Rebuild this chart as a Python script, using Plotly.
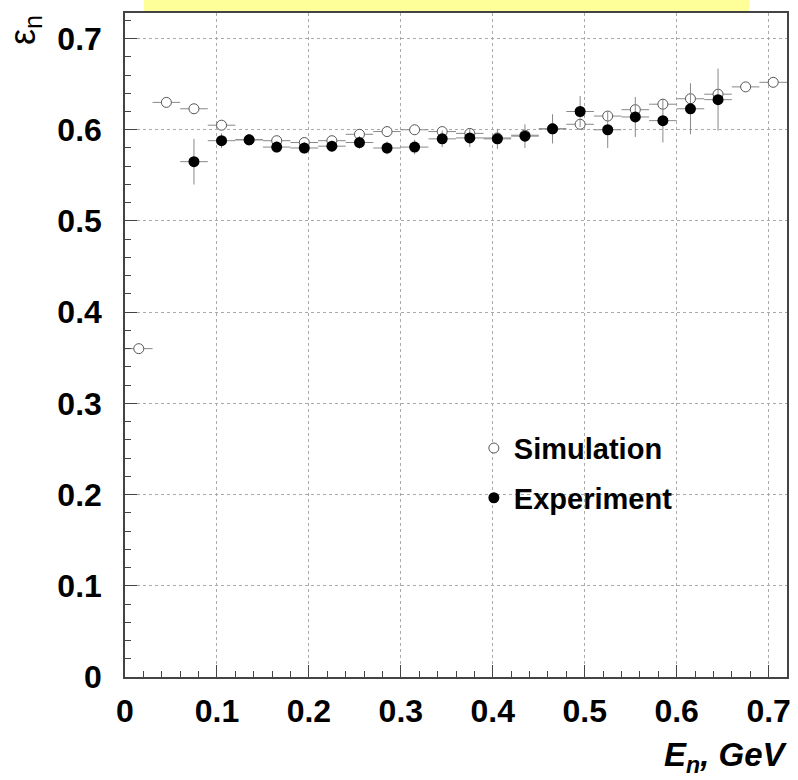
import plotly.graph_objects as go

# Bin centres (GeV) and half-widths
sim_x = [0.015, 0.045, 0.075, 0.105, 0.135, 0.165, 0.195, 0.225, 0.255, 0.285,
         0.315, 0.345, 0.375, 0.405, 0.435, 0.465, 0.495, 0.525, 0.555, 0.585,
         0.615, 0.645, 0.675, 0.705]
sim_y = [0.360, 0.630, 0.623, 0.605, 0.589, 0.588, 0.586, 0.588, 0.595, 0.598,
         0.600, 0.598, 0.596, 0.591, 0.594, 0.601, 0.606, 0.615, 0.622, 0.628,
         0.634, 0.639, 0.647, 0.652]

exp_x = [0.075, 0.105, 0.135, 0.165, 0.195, 0.225, 0.255, 0.285, 0.315, 0.345,
         0.375, 0.405, 0.435, 0.465, 0.495, 0.525, 0.555, 0.585, 0.615, 0.645]
exp_y = [0.565, 0.588, 0.589, 0.581, 0.580, 0.582, 0.586, 0.580, 0.581, 0.590,
         0.591, 0.590, 0.593, 0.601, 0.620, 0.600, 0.614, 0.610, 0.623, 0.633]
exp_err = [0.025, 0.008, 0.006, 0.006, 0.006, 0.006, 0.007, 0.007, 0.008, 0.009,
           0.010, 0.011, 0.013, 0.016, 0.017, 0.020, 0.022, 0.024, 0.028, 0.034]

tick_vals = [0, 0.1, 0.2, 0.3, 0.4, 0.5, 0.6, 0.7]
tick_text = ["0", "0.1", "0.2", "0.3", "0.4", "0.5", "0.6", "0.7"]

bin_half = 0.015

FONT = "Liberation Sans, Arial, Helvetica, sans-serif"
ERRC = "#888888"

fig = go.Figure()

fig.add_trace(go.Scatter(
    x=sim_x, y=sim_y, mode="markers", name="Simulation",
    legendgroup="sim",
    marker=dict(symbol="circle", size=10, color="white",
                line=dict(color="#555555", width=1)),
    error_x=dict(type="constant", value=bin_half, color=ERRC, thickness=1, width=0),
))

fig.add_trace(go.Scatter(
    x=exp_x, y=exp_y, mode="markers", name="Experiment",
    legendgroup="exp",
    marker=dict(symbol="circle", size=11, color="black",
                line=dict(color="black", width=0)),
    error_x=dict(type="constant", value=bin_half, color=ERRC, thickness=1, width=0),
    error_y=dict(type="data", array=exp_err, color=ERRC, thickness=1, width=0),
))

axis_common = dict(
    showline=True, linecolor="#444444", linewidth=1.5, mirror=True,
    ticks="inside", ticklen=12, tickwidth=1, tickcolor="#444444",
    showgrid=True, gridcolor="#aaaaaa", gridwidth=1, griddash="dot",
    zeroline=False, automargin=False,
    tickmode="array", tickvals=tick_vals, ticktext=tick_text,
    tickfont=dict(family=FONT, size=32, color="black", weight="bold"),
    tickangle=0,
    minor=dict(ticks="inside", ticklen=6, dtick=0.02, tick0=0,
               tickcolor="#444444", showgrid=False),
)

fig.update_xaxes(range=[0, 0.72], ticklabelstandoff=5, **axis_common)
fig.update_yaxes(range=[0, 0.728], ticklabelstandoff=15, **axis_common)

fig.update_layout(
    width=798, height=780,
    margin=dict(l=125, r=11, t=13, b=103, autoexpand=False),
    paper_bgcolor="white", plot_bgcolor="white",
    showlegend=True,
    legend=dict(x=0.527, y=0.383, xanchor="left", yanchor="top",
                bgcolor="rgba(0,0,0,0)", borderwidth=0,
                font=dict(family=FONT, size=29, color="black", weight="bold"),
                tracegroupgap=9),
    shapes=[dict(type="rect", xref="paper", yref="paper",
                 x0=0.0287, x1=0.9426, y0=1.003, y1=1.04,
                 fillcolor="#ffff99", line=dict(width=0), layer="above")],
    annotations=[
        dict(text="<b><i>E<sub>n</sub>, GeV</i></b>", xref="paper", yref="paper",
             x=1.003, y=0, xanchor="right", yanchor="top", yshift=-57,
             showarrow=False, font=dict(family=FONT, size=33, color="black")),
        dict(text="ε<sub>n</sub>", xref="paper", yref="paper",
             x=-0.152, y=0.975, xanchor="center", yanchor="middle",
             textangle=-90, showarrow=False,
             font=dict(family=FONT, size=36, color="black")),
    ],
)

fig.write_html("out.html")
